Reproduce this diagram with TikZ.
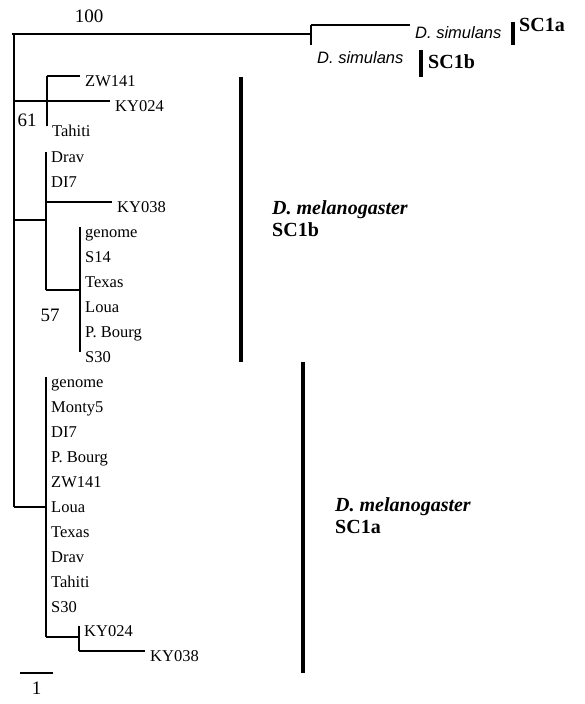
\documentclass[tikz,border=0pt]{standalone}
\usepackage{fontspec}
\setmainfont{Liberation Serif}
\newfontfamily\helvfont{Liberation Sans}
\usetikzlibrary{positioning}

\tikzset{
  branch/.style={line width=1.6pt},
  cladebar/.style={line width=4pt},
  leaf/.style={anchor=base west, inner sep=0pt, xshift=5pt, yshift=-10.5pt, font=\fontsize{16.5}{18}\selectfont},
  simleaf/.style={anchor=base west, inner sep=0pt, font=\helvfont\itshape\fontsize{16.5}{18}\selectfont},
  boot/.style={inner sep=0pt, font=\fontsize{19}{21}\selectfont},
  cladename/.style={right, inner sep=0pt, align=left, font=\bfseries\fontsize{20}{22}\selectfont},
}

\begin{document}
\begin{tikzpicture}[x=1pt, y=-1pt]
    \useasboundingbox (0,0) rectangle (584,704);

    % root
    \coordinate (rootstart) at (12, 34);
    \coordinate (roottop)   at (14, 34);
    \coordinate (root61)    at (14, 101);
    \coordinate (rootmel1b) at (14, 220);
    \coordinate (rootmel1a) at (14, 507);

    % D. simulans
    \coordinate (sim)     at (311, 34);
    \coordinate (simtop)  at (311, 25);
    \coordinate (simbot)  at (311, 45);
    \coordinate (simend)  at (410, 25);

    \draw[branch] (rootstart) -- (sim);
    \draw[branch] (roottop) -- (rootmel1a);
    \draw[branch] (simtop) -- (simbot);
    \draw[branch] (simtop) -- (simend);
    \node[simleaf, xshift=5pt, yshift=-13pt] (simA) at (simend) {D. simulans};
    \node[simleaf, xshift=6pt, yshift=-18pt] (simB) at (simbot) {D. simulans};
    \node[boot] (b100) at (89, 16) {100};

    % clade 61
    \coordinate (n61)     at (47, 101);
    \coordinate (n61top)  at (47, 76);
    \coordinate (n61bot)  at (47, 126);
    \coordinate (zwend)   at (80, 76);
    \coordinate (kyend)   at (110, 101);

    \draw[branch] (root61) -- (kyend);
    \draw[branch] (n61top) -- (n61bot);
    \draw[branch] (n61top) -- (zwend);
    \node[leaf] (zw141a) at (zwend) {ZW141};
    \node[leaf] (ky024a) at (kyend) {KY024};
    \node[leaf] (tahitia) at (n61bot) {Tahiti};
    \node[boot] (b61) at (27, 120) {61};

    % SC1b
    \coordinate (m1b)      at (46, 220);
    \coordinate (m1btop)   at (46, 152);
    \coordinate (m1bbot)   at (46, 290);
    \coordinate (m1bky)    at (46, 202);
    \coordinate (kyendb)   at (112, 202);
    \coordinate (g57)      at (80, 290);
    \coordinate (g57top)   at (80, 227);
    \coordinate (g57bot)   at (80, 352);

    \draw[branch] (rootmel1b) -- (m1b);
    \draw[branch] (m1btop) -- (m1bbot);
    \draw[branch] (m1bky) -- (kyendb);
    \draw[branch] (m1bbot) -- (g57);
    \draw[branch] (g57top) -- (g57bot);
    \node[leaf] (dravb) at (m1btop) {Drav};
    \node[leaf] (di7b) at (46, 177) {DI7};
    \node[leaf] (ky038b) at (kyendb) {KY038};
    \node[leaf] (genomeb) at (g57top) {genome};
    \node[leaf] (s14b) at (80, 252) {S14};
    \node[leaf] (texasb) at (80, 277) {Texas};
    \node[leaf] (louab) at (80, 302) {Loua};
    \node[leaf] (pbourgb) at (80, 327) {P. Bourg};
    \node[leaf] (s30b) at (g57bot) {S30};
    \node[boot] (b57) at (50, 315) {57};

    % SC1a
    \coordinate (m1a)     at (46, 507);
    \coordinate (m1atop)  at (46, 377);
    \coordinate (m1abot)  at (46, 637);
    \coordinate (kyc)     at (79, 637);
    \coordinate (kyctop)  at (79, 626);
    \coordinate (kycbot)  at (79, 651);
    \coordinate (kycend)  at (145, 651);

    \draw[branch] (rootmel1a) -- (m1a);
    \draw[branch] (m1atop) -- (m1abot);
    \draw[branch] (m1abot) -- (kyc);
    \draw[branch] (kyctop) -- (kycbot);
    \draw[branch] (kycbot) -- (kycend);
    \node[leaf] (genomea) at (m1atop) {genome};
    \node[leaf] (monty5a) at (46, 402) {Monty5};
    \node[leaf] (di7a) at (46, 427) {DI7};
    \node[leaf] (pbourga) at (46, 452) {P. Bourg};
    \node[leaf] (zw141c) at (46, 477) {ZW141};
    \node[leaf] (louaa) at (46, 502) {Loua};
    \node[leaf] (texasa) at (46, 527) {Texas};
    \node[leaf] (drava) at (46, 552) {Drav};
    \node[leaf] (tahitic) at (46, 577) {Tahiti};
    \node[leaf] (s30a) at (46, 602) {S30};
    \node[leaf] (ky024c) at (kyctop) {KY024};
    \node[leaf] (ky038c) at (kycend) {KY038};

    % clade bars
    \coordinate (barsimAtop) at (513, 22);
    \coordinate (barsimAbot) at (513, 45);
    \coordinate (barsimBtop) at (421, 50);
    \coordinate (barsimBbot) at (421, 77);
    \coordinate (barmel1btop) at (241, 77);
    \coordinate (barmel1bbot) at (241, 362);
    \coordinate (barmel1atop) at (303, 362);
    \coordinate (barmel1abot) at (303, 673);

    \draw[cladebar] (barsimAtop) -- (barsimAbot);
    \draw[cladebar] (barsimBtop) -- (barsimBbot);
    \draw[cladebar] (barmel1btop) -- (barmel1bbot);
    \draw[cladebar] (barmel1atop) -- (barmel1abot);
    \node[cladename] (simAname) at (519, 25) {SC1a};
    \node[cladename] (simBname) at (428, 62) {SC1b};
    \node[cladename] (mel1bname) at (272, 219) {\textit{D. melanogaster}\\SC1b};
    \node[cladename] (mel1aname) at (335, 516) {\textit{D. melanogaster}\\SC1a};

    % scale
    \coordinate (scaleleft)  at (20, 673);
    \coordinate (scaleright) at (53, 673);
    \draw[line width=1.4pt] (scaleleft) -- (scaleright) node[below=8pt, pos=0.5, boot] (scalelabel) {1};
  \end{tikzpicture}
\end{document}
